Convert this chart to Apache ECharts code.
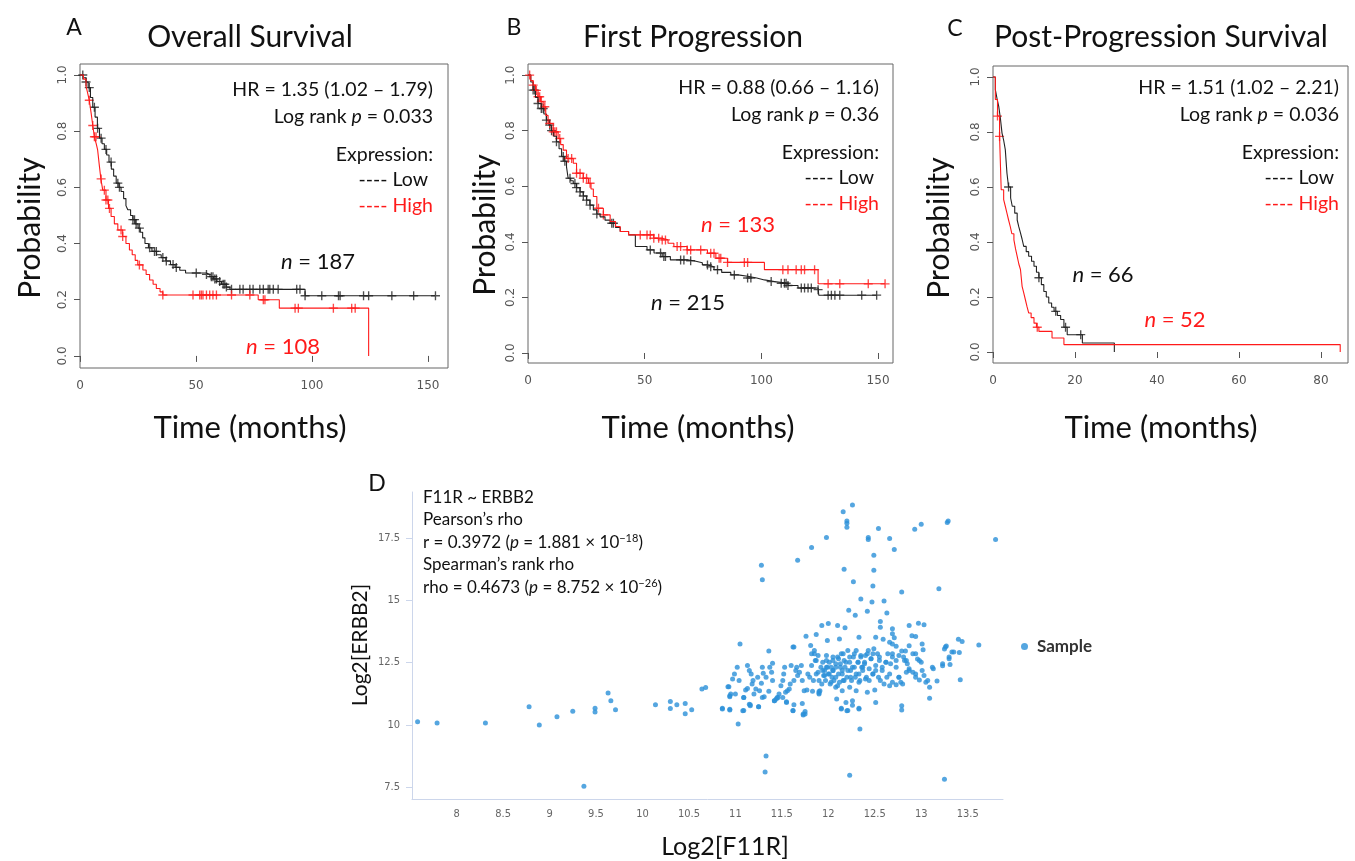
<!DOCTYPE html>
<html>
<head>
<meta charset="utf-8">
<script src="https://cdn.jsdelivr.net/npm/echarts@6/dist/echarts.min.js"></script>
<style>
  html, body { margin: 0; padding: 0; background: #fff; }
  #chart { width: 1355px; height: 861px; }
</style>
</head>
<body>
<div id="chart"></div>
<script>
// Kaplan-Meier curves: [months, survival probability] at each drop
const osLowCurve = [[0,1],[1.5,0.99],[2.6,0.975],[3.5,0.955],[4.5,0.92],[5.5,0.885],[6.5,0.85],[7.5,0.81],[8.4,0.775],[9.5,0.755],[10.5,0.735],[11.5,0.715],[12.5,0.69],[13.5,0.665],[14.5,0.64],[15.6,0.615],[16.8,0.6],[17.7,0.585],[18.8,0.56],[19.8,0.535],[20.6,0.52],[21.8,0.5],[22.8,0.485],[23.8,0.47],[25,0.455],[26,0.44],[27,0.42],[28,0.4],[29.5,0.385],[31,0.372],[33,0.36],[35,0.35],[37,0.338],[39,0.325],[41,0.315],[43,0.305],[45.5,0.295],[54.5,0.29],[56,0.282],[57.5,0.274],[59,0.265],[61,0.255],[63,0.245],[64.6,0.237],[97,0.214],[153,0.214]];
const osHighCurve = [[0,1],[1.5,0.985],[2.6,0.96],[3.3,0.935],[4,0.91],[4.8,0.864],[5.5,0.82],[6.2,0.78],[7,0.755],[7.6,0.733],[8.3,0.68],[9,0.63],[9.8,0.59],[11.2,0.555],[12.3,0.525],[13.4,0.496],[14.8,0.47],[16.3,0.448],[18.4,0.425],[19.8,0.4],[21.3,0.377],[22.5,0.36],[23.8,0.34],[24.9,0.324],[27.1,0.306],[28.5,0.29],[30,0.27],[31.5,0.255],[32.9,0.24],[34.5,0.228],[35.7,0.217],[76.8,0.2],[85.9,0.17],[124.4,0]];
const osLowCensor = [1.2,2.6,4.0,6.2,7.6,9.1,11.2,13.4,16.3,17,22.8,23.5,24.2,25.6,30,32.1,32.9,35.7,37.2,40.1,41.5,50.1,54.5,56.6,57.3,58.1,58.8,60.2,61.7,62.4,63.1,65.3,68.9,70.3,73.2,74.6,77.5,79,81.1,81.8,83.3,85.4,93.4,94.8,97,104.2,111.4,112.1,122.2,124.4,134.4,143.8,153.2];
const osHighCensor = [4.0,5.5,6.2,6.9,9.1,10.5,11.2,12.0,12.7,17.7,18.4,25.6,35.7,48.7,51.6,52.3,53,54.5,55.9,57.3,58.8,65.3,73.2,79,79.7,92.7,94.1,109.2,117.1,118.6];

const fpLowCurve = [[0,1],[1.2,0.975],[2.2,0.946],[3.2,0.92],[4.3,0.898],[5.7,0.88],[6.8,0.86],[7.9,0.838],[9,0.82],[10,0.8],[11,0.78],[12.2,0.76],[13.3,0.735],[14.4,0.707],[15.5,0.69],[16.5,0.67],[17.2,0.629],[18.3,0.62],[19.4,0.61],[20.8,0.595],[22.3,0.58],[23.7,0.565],[25.1,0.55],[26.5,0.532],[28,0.515],[29.5,0.5],[30.9,0.49],[33,0.478],[35.2,0.467],[37.5,0.452],[39.5,0.437],[43.1,0.425],[46,0.383],[51,0.371],[54,0.36],[57.5,0.347],[61,0.335],[68.2,0.332],[71,0.325],[74.7,0.317],[77,0.31],[79.7,0.3],[83,0.29],[86.9,0.281],[90,0.276],[94.1,0.27],[98,0.263],[101.3,0.257],[105.6,0.251],[111.4,0.243],[115.7,0.234],[124.3,0.228],[124.6,0.208],[149.4,0.208]];
const fpHighCurve = [[0,1],[1.2,0.98],[2.2,0.964],[3.2,0.945],[4.3,0.922],[5.4,0.905],[6.5,0.886],[7.6,0.855],[8.6,0.826],[10.8,0.796],[12.9,0.772],[14,0.75],[15.1,0.73],[16.5,0.7],[19.4,0.683],[20.8,0.647],[23.7,0.629],[25.9,0.611],[27,0.59],[28,0.563],[29.5,0.521],[32.3,0.497],[35.2,0.473],[37.5,0.455],[39.5,0.437],[43.1,0.425],[53.9,0.413],[57.5,0.407],[60,0.395],[62.5,0.383],[68.2,0.371],[76.9,0.359],[80.5,0.341],[85.5,0.326],[101.3,0.3],[124.3,0.249],[153,0.249]];
const fpLowCensor = [2.2,2.9,4.3,5.7,6.5,7.9,9.3,10.1,12.2,15.1,15.8,18,20.1,20.8,22.3,23.7,25.1,26.6,29.5,35.9,36.6,52.4,56.8,58.2,58.9,65.4,66.8,69.7,76.9,78.3,81.2,88.4,94.1,95.5,104.2,108.5,109.9,110.6,111.4,117.1,118.5,120,121.4,124.3,128.6,130,131.5,133.6,143,149.4];
const fpHighCensor = [0.7,2.2,3.6,4.3,5.0,5.7,7.2,9.3,10.8,11.5,12.2,13.6,17.2,18.7,20.8,22.3,23.7,25.1,26.6,30.2,32.3,48.1,51,52.4,53.9,56,57.5,58.9,63.9,65.4,68.2,69.7,74,78.3,79.7,81.9,82.6,85.5,92.7,94.1,109.2,111.4,114.9,117.1,118.5,122.8,128.6,133.6,145.8,153];

const ppsLowCurve = [[0,1],[0.57,0.954],[1,0.92],[1.4,0.893],[1.8,0.85],[2.2,0.796],[2.6,0.77],[3.0,0.736],[3.4,0.651],[3.8,0.6],[4.3,0.56],[4.7,0.53],[5.3,0.505],[5.9,0.48],[6.3,0.455],[6.7,0.433],[7.1,0.41],[7.5,0.384],[8.1,0.365],[8.7,0.348],[9.4,0.33],[10,0.312],[10.6,0.29],[11.2,0.27],[11.8,0.245],[12.4,0.22],[13,0.2],[13.6,0.178],[14.3,0.163],[14.9,0.148],[15.7,0.133],[16.5,0.118],[17.3,0.09],[18.1,0.063],[21.8,0.033],[29.6,0]];
const ppsHighCurve = [[0,1],[0.57,0.918],[1.1,0.858],[1.6,0.784],[2.0,0.59],[2.6,0.554],[3.0,0.53],[3.4,0.505],[3.8,0.48],[4.2,0.457],[4.6,0.43],[5.1,0.408],[5.5,0.375],[5.9,0.348],[6.3,0.32],[6.7,0.3],[7.1,0.239],[7.5,0.215],[7.9,0.19],[8.3,0.165],[8.7,0.142],[9.3,0.125],[10,0.105],[10.6,0.09],[11.2,0.075],[14.4,0.051],[17.3,0.027],[84.7,0]];
const ppsLowCensor = [3.8,11.2,15.3,17.7,21.4];
const ppsHighCensor = [1.1,1.6,10.8];

const probTicks = [0, 0.2, 0.4, 0.6, 0.8, 1];
const monthTicks = [0, 50, 100, 150];
const ppsMonthTicks = [0, 20, 40, 60, 80];

// Scatter: [Log2 F11R, Log2 ERBB2]
const f11rErbb2Points = [
[7.58,10.12],[7.79,10.07],[8.31,10.07],[8.78,10.73],[8.89,9.99],[9.08,10.32],[9.25,10.54],[9.49,10.66],[9.49,10.51],[9.63,11.28],[9.66,10.97],[9.71,10.60],[9.37,7.53],[10.14,10.81],[10.30,10.94],[10.30,10.65],[10.37,10.81],[10.46,10.86],[10.46,10.44],[10.53,10.60],
[10.64,11.44],[10.68,11.50],[10.86,10.66],[10.94,10.62],
[11.05,13.25],[11.28,16.41],[11.29,15.83],[11.33,8.75],[11.32,8.10],[11.67,16.61],[11.82,17.12],[11.98,17.52],[12.16,18.56],[12.26,18.83],[12.20,18.19],[12.20,18.09],[12.20,17.93],[12.54,17.88],[12.43,17.52],[12.43,17.44],[12.66,17.48],[12.71,17.04],[12.93,17.85],[13.00,18.05],[13.28,18.13],[13.29,18.19],[13.80,17.44],[12.49,16.81],[12.17,16.25],[12.49,16.21],[12.27,15.75],[12.48,15.57],[12.79,15.33],[13.19,15.46],[12.35,15.05],[12.47,14.93],[12.60,14.97],[12.22,14.60],[12.29,14.40],[12.42,14.56],[12.63,14.49],[12.56,14.15],[12.56,13.92],[12.87,13.99],[12.97,14.08],[13.03,14.02],[11.93,13.99],[12.00,14.07],[12.10,13.99],[12.18,13.90],[11.76,13.56],[11.87,13.63],[11.62,13.12],[11.63,13.12],[11.36,12.96],[13.40,13.44],[13.44,13.35],[13.62,13.21],[13.42,11.81],[13.09,11.07],[12.79,10.77],[12.79,10.59],[12.51,10.90],[12.33,10.66],[12.34,9.83],[12.23,7.97],[13.25,7.81],[12.14,10.66],[12.20,10.56],[12.26,10.79],[11.90,11.28],[11.90,11.34],[11.75,10.43],[11.73,10.39],[11.62,10.56],[11.63,10.81],[11.51,11.10],[11.55,10.93],[11.42,10.97],[11.45,11.10],[11.25,10.73],[11.29,11.10],[11.08,10.56],[11.15,10.83],[11.16,10.77],[11.09,11.10],[11.13,11.46],[10.93,11.53],[10.94,11.17],[10.95,11.24],
[10.86,10.63],[10.94,10.59],[11.03,10.03],[11.09,10.57],[11.16,10.81],[11.25,10.73],[10.92,11.53],[10.94,11.13],[10.97,11.84],[11.00,11.24],[10.99,12.04],[11.02,12.31],[11.04,11.78],[11.09,11.10],[11.11,11.40],[11.13,12.38],[11.15,12.18],[11.17,12.04],[11.19,11.78],[11.18,11.64],[11.20,11.24],[11.22,11.44],[11.24,11.91],[11.26,11.37],[11.28,11.67],[11.29,12.31],[11.30,12.07],[11.31,11.13],[11.33,11.91],[11.36,11.35],[11.37,12.31],[11.39,12.11],[11.40,12.47],[11.40,11.78],[11.42,10.97],[11.44,11.04],[11.46,11.10],[11.47,11.24],[11.49,11.57],[11.51,11.78],[11.52,12.04],[11.53,12.31],[11.54,11.31],[11.55,10.90],[11.56,11.37],[11.58,11.44],[11.59,11.64],[11.60,12.38],[11.62,10.57],[11.63,11.78],[11.65,12.18],[11.66,12.31],[11.67,11.98],[11.69,12.11],[11.71,12.38],[11.72,10.86],[11.72,11.78],[11.73,10.43],[11.74,11.37],[11.75,10.53],[11.77,11.40],[11.78,12.04],[11.80,11.91],[11.81,13.19],[11.82,12.85],[11.82,12.38],[11.83,11.35],[11.84,11.78],[11.85,12.98],[11.86,12.58],[11.87,12.04],[11.89,12.78],[11.90,11.24],[11.90,11.78],[11.91,11.37],[11.92,12.31],[11.93,11.64],[11.94,12.51],[11.95,11.98],[11.96,12.18],[11.97,11.78],[11.98,12.78],[11.98,12.31],[11.99,13.39],[12.00,12.04],[12.01,12.51],[12.02,11.64],[12.03,12.31],[12.04,11.91],[12.05,12.18],[12.05,12.58],[12.06,11.78],[12.08,11.51],[12.08,12.31],[12.09,11.04],[12.10,12.72],[12.11,12.04],[12.12,13.45],[12.12,11.71],[12.13,12.45],[12.14,10.63],[12.14,12.85],[12.15,12.18],[12.15,11.37],[12.16,11.78],[12.17,12.58],[12.18,12.31],[12.19,10.90],[12.20,11.91],[12.21,10.57],[12.21,12.98],[12.23,12.51],[12.23,11.51],[12.24,12.18],[12.25,11.78],[12.26,10.97],[12.27,12.72],[12.28,12.31],[12.29,11.91],[12.30,12.98],[12.30,11.37],[12.32,12.51],[12.33,10.63],[12.33,13.52],[12.33,12.04],[12.34,11.78],[12.35,12.72],[12.36,12.31],
[12.69,13.86],[12.69,13.66],[12.71,13.50],[12.90,13.58],[12.94,13.55],[12.51,13.52],[12.59,13.44],[12.66,13.32],[12.69,13.25],[12.73,13.15],[12.79,12.96],[12.83,12.96],[12.87,13.17],[13.01,13.25],[13.02,13.01],[12.94,12.85],[12.96,12.64],[13.00,12.51],[13.27,13.16],[13.25,13.04],[13.33,12.92],[13.41,12.90],[13.30,12.65],[13.31,12.42],[13.23,12.37],[13.13,12.25],[13.17,11.76],[13.09,11.51],[13.05,11.71],[13.03,11.98],[12.98,11.80],[12.94,11.91],[12.91,12.11],[12.87,12.25],[12.85,12.45],[12.84,12.58],[12.81,12.72],[12.76,12.78],[12.73,12.58],[12.69,12.72],[12.67,12.45],[12.64,12.85],[12.62,12.51],[12.58,12.31],[12.55,12.58],[12.53,12.85],[12.49,13.05],[12.48,12.85],[12.46,12.65],[12.43,12.98],[12.40,12.78],[12.39,12.51],[12.37,12.31],[12.40,11.84],[12.44,11.78],[12.48,12.04],[12.51,12.18],[12.54,11.91],[12.56,11.78],[12.60,11.64],[12.63,11.91],[12.66,11.57],[12.69,11.71],[12.73,11.61],[12.76,11.91],[12.78,11.71],[12.80,11.64],[12.84,12.11],[12.42,11.31],[12.50,11.40],
[11.85,12.85],[11.87,12.58],[11.89,12.11],[11.94,12.18],[11.96,11.98],[11.98,12.58],[11.99,12.31],[12.01,12.04],[12.03,11.71],[12.05,12.72],[12.05,12.18],[12.08,12.45],[12.08,11.91],[12.10,11.57],[12.11,12.65],[12.13,12.31],[12.15,12.04],[12.16,12.85],[12.17,11.78],[12.19,12.51],[12.21,12.18],[12.23,12.72],[12.24,11.91],[12.26,12.31],[12.28,12.85],[12.30,12.04],[12.32,12.51],[12.33,11.71],[12.35,12.78],[12.37,12.18],[12.39,12.45],[12.41,11.91],[12.42,12.85],[12.44,12.25],[12.46,12.65],[12.48,12.04],[12.51,12.38],[12.55,12.72],[12.58,12.18],[12.62,12.51],[12.66,12.04],[12.69,12.85],[12.73,12.31],[12.76,11.91],[12.82,12.58],[12.87,12.18],[12.91,12.85],[12.94,12.04],[12.98,12.58],[13.01,12.18],[13.07,11.78],[13.12,12.31],[13.23,12.45],[13.26,13.12],[13.30,12.72],[13.35,12.92]
];
const f11rTicks = [8, 8.5, 9, 9.5, 10, 10.5, 11, 11.5, 12, 12.5, 13, 13.5];
const erbb2Ticks = [7.5, 10, 12.5, 15, 17.5];

const FONT = 'Lato, "Noto Sans", sans-serif';
const RED = '#ff1a1a';
const BLACK = '#222222';
const CROSS = 'path://M8.5,0H11.5V8.5H20V11.5H11.5V20H8.5V11.5H0V8.5H8.5Z';

// survival value at time t (last step at or before t)
function stepValue(curve, t) {
  let v = curve[0][1];
  for (const p of curve) {
    if (p[0] <= t) v = p[1];
    else break;
  }
  return v;
}

function kmSeries(idx, curve, censor, color) {
  return [{
    type: 'line',
    xAxisIndex: idx, yAxisIndex: idx,
    data: curve,
    step: 'end',
    showSymbol: false,
    lineStyle: { color: color, width: 1.1 },
    silent: true
  }, {
    type: 'scatter',
    xAxisIndex: idx, yAxisIndex: idx,
    data: censor.map(t => [t, stepValue(curve, t)]),
    symbol: CROSS,
    symbolSize: 9,
    itemStyle: { color: color },
    silent: true
  }];
}

function kmXAxis(idx, max, ticks) {
  return {
    gridIndex: idx, type: 'value', min: 0, max: max,
    axisLine: { show: false },
    axisTick: { show: true, length: 6, customValues: ticks, lineStyle: { color: '#555' } },
    axisLabel: { color: '#555', fontSize: 12, margin: 12, fontFamily: 'DejaVu Sans', customValues: ticks },
    splitLine: { show: false }
  };
}

function kmYAxis(idx, min, max) {
  return {
    gridIndex: idx, type: 'value', min: min, max: max,
    axisLine: { show: false },
    axisTick: { show: true, length: 6, customValues: probTicks, lineStyle: { color: '#555' } },
    axisLabel: {
      color: '#555', fontSize: 12, margin: 11, rotate: 90, fontFamily: 'DejaVu Sans',
      customValues: probTicks, formatter: v => v.toFixed(1)
    },
    splitLine: { show: false }
  };
}

function txt(x, y, text, o) {
  o = o || {};
  const size = o.fontSize || 19.5;
  const fill = o.fill || '#111';
  return {
    type: 'text', x: x, y: y, rotation: o.rotation || 0, silent: true,
    style: {
      text: text, fontFamily: FONT, fontSize: size, fill: fill,
      align: o.align || 'right', verticalAlign: 'middle',
      rich: {
        i: { fontStyle: 'italic', fontFamily: FONT, fontSize: size, fill: fill },
        sup: { fontFamily: FONT, fontSize: 11, fill: fill, padding: [0, 0, 9, 0] }
      }
    }
  };
}

function panelText(right, top, hr, p, nLow, nHigh) {
  return [
    txt(right, top, hr),
    txt(right, top + 27, 'Log rank {i|p} = ' + p),
    txt(right, top + 65, 'Expression:'),
    txt(right - 5, top + 90, '---- Low'),
    txt(right, top + 116, '---- High', { fill: RED }),
    txt(nLow[0], nLow[1], '{i|n} = ' + nLow[2], { fontSize: 22, align: 'center' }),
    txt(nHigh[0], nHigh[1], '{i|n} = ' + nHigh[2], { fontSize: 22, align: 'center', fill: RED })
  ];
}

const graphics = [
  txt(74, 28, 'A', { fontSize: 23, align: 'center' }),
  txt(514, 28, 'B', { fontSize: 23, align: 'center' }),
  txt(955, 29, 'C', { fontSize: 23, align: 'center' }),
  txt(377, 484, 'D', { fontSize: 23, align: 'center' }),
  txt(250, 37, 'Overall Survival', { fontSize: 30, align: 'center' }),
  txt(693, 37, 'First Progression', { fontSize: 30, align: 'center' }),
  txt(1161, 37, 'Post-Progression Survival', { fontSize: 30, align: 'center' }),
  txt(30, 228, 'Probability', { fontSize: 30, align: 'center', rotation: Math.PI / 2 }),
  txt(485, 225, 'Probability', { fontSize: 30, align: 'center', rotation: Math.PI / 2 }),
  txt(939, 228, 'Probability', { fontSize: 30, align: 'center', rotation: Math.PI / 2 }),
  txt(250, 428, 'Time (months)', { fontSize: 31, align: 'center' }),
  txt(698, 428, 'Time (months)', { fontSize: 31, align: 'center' }),
  txt(1161, 428, 'Time (months)', { fontSize: 31, align: 'center' }),
  txt(360, 645, 'Log2[ERBB2]', { fontSize: 21, align: 'center', rotation: Math.PI / 2 }),
  txt(725, 847, 'Log2[F11R]', { fontSize: 25, align: 'center' }),
  txt(423, 498, 'F11R ~ ERBB2', { fontSize: 17, align: 'left' }),
  txt(423, 520, 'Pearson\u2019s rho', { fontSize: 17, align: 'left' }),
  txt(423, 543, 'r = 0.3972 ({i|p} = 1.881 \u00d7 10{sup|\u221218})', { fontSize: 17, align: 'left' }),
  txt(423, 565, 'Spearman\u2019s rank rho', { fontSize: 17, align: 'left' }),
  txt(423, 588, 'rho = 0.4673 ({i|p} = 8.752 \u00d7 10{sup|\u221226})', { fontSize: 17, align: 'left' })
].concat(
  panelText(433, 90, 'HR = 1.35 (1.02 \u2013 1.79)', '0.033', [318, 262, 187], [283, 347, 108]),
  panelText(879, 88, 'HR = 0.88 (0.66 \u2013 1.16)', '0.36', [688, 303, 215], [738, 225, 133]),
  panelText(1339, 88, 'HR = 1.51 (1.02 \u2013 2.21)', '0.036', [1103, 275, 66], [1175, 320, 52])
);

const chart = echarts.init(document.getElementById('chart'), null, { renderer: 'canvas' });

chart.setOption({
  backgroundColor: '#ffffff',
  animation: false,
  grid: [
    { left: 80, top: 64, width: 368, height: 304, show: true, borderColor: '#666', borderWidth: 1 },
    { left: 528, top: 64, width: 365, height: 299, show: true, borderColor: '#666', borderWidth: 1 },
    { left: 993, top: 66, width: 355, height: 297, show: true, borderColor: '#666', borderWidth: 1 },
    { left: 412, top: 492, width: 591, height: 307 }
  ],
  xAxis: [
    kmXAxis(0, 158.6, monthTicks),
    kmXAxis(1, 156.4, monthTicks),
    kmXAxis(2, 86.6, ppsMonthTicks),
    {
      gridIndex: 3, type: 'value', min: 7.52, max: 13.88,
      axisLine: { show: true, lineStyle: { color: '#ccd6eb' } },
      axisTick: { show: false },
      axisLabel: {
        color: '#666', fontSize: 11, margin: 10, customValues: f11rTicks,
        fontFamily: '"Liberation Sans Narrow", "DejaVu Sans Condensed", sans-serif'
      },
      splitLine: { show: false }
    }
  ],
  yAxis: [
    kmYAxis(0, -0.043, 1.039),
    kmYAxis(1, -0.036, 1.04),
    kmYAxis(2, -0.04, 1.04),
    {
      gridIndex: 3, type: 'value', min: 7.02, max: 19.35,
      axisLine: { show: true, lineStyle: { color: '#ccd6eb' } },
      axisTick: { show: true, length: 6, customValues: erbb2Ticks, lineStyle: { color: '#ccd6eb' } },
      axisLabel: {
        color: '#666', fontSize: 11, margin: 12, customValues: erbb2Ticks,
        fontFamily: '"Liberation Sans Narrow", "DejaVu Sans Condensed", sans-serif'
      },
      splitLine: { show: false }
    }
  ],
  legend: {
    data: ['Sample'],
    left: 1016, top: 633,
    icon: 'circle', itemWidth: 7, itemHeight: 7,
    textStyle: { fontSize: 17, fontWeight: 'bold', color: '#333', fontFamily: FONT, padding: [0, 0, 0, 4] }
  },
  series: [].concat(
    kmSeries(0, osLowCurve, osLowCensor, BLACK),
    kmSeries(0, osHighCurve, osHighCensor, RED),
    kmSeries(1, fpLowCurve, fpLowCensor, BLACK),
    kmSeries(1, fpHighCurve, fpHighCensor, RED),
    kmSeries(2, ppsLowCurve, ppsLowCensor, BLACK),
    kmSeries(2, ppsHighCurve, ppsHighCensor, RED),
    [{
      name: 'Sample',
      type: 'scatter',
      xAxisIndex: 3, yAxisIndex: 3,
      data: f11rErbb2Points,
      symbolSize: 5,
      itemStyle: { color: '#2a90d8' }
    }]
  ),
  graphic: graphics
});
</script>
</body>
</html>
